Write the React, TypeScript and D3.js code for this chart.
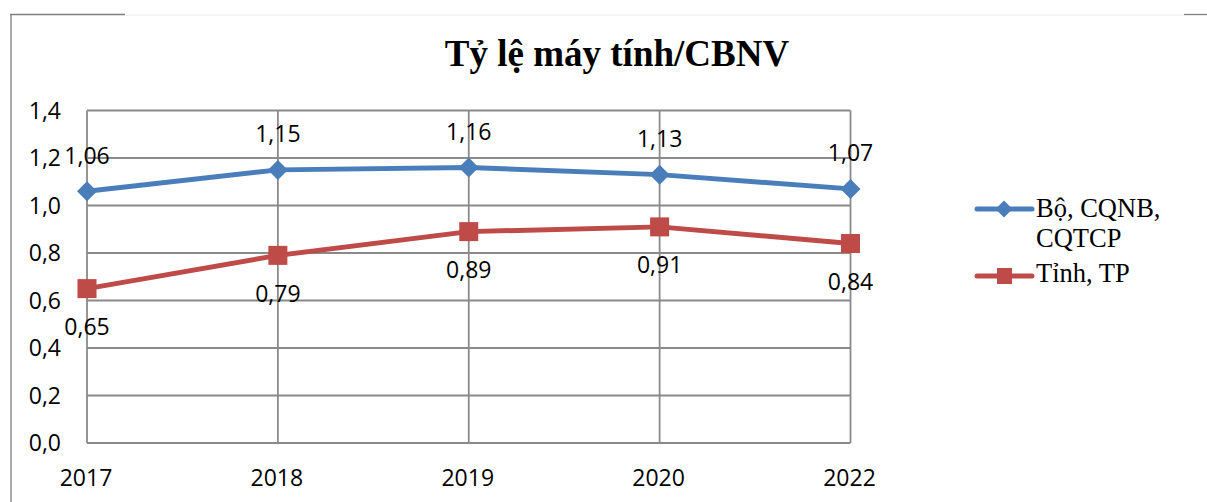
import React from "react";
import * as d3 from "d3";

const categories = ["2017", "2018", "2019", "2020", "2022"];
const seriesBo = [1.06, 1.15, 1.16, 1.13, 1.07];
const seriesTinh = [0.65, 0.79, 0.89, 0.91, 0.84];
const yTicks = [0, 0.2, 0.4, 0.6, 0.8, 1.0, 1.2, 1.4];
const seriesNames = ["Bộ, CQNB,", "CQTCP", "Tỉnh, TP"];
const title = "Tỷ lệ máy tính/CBNV";

const BLUE = "#4A7EBB";
const RED = "#BE4B48";
const GRID = "#8A8A8A";

const fmt = (v: number, d: number) => v.toFixed(d).replace(".", ",");

export default function App() {
  const W = 1207;
  const H = 502;
  const x = d3.scalePoint<string>().domain(categories).range([87, 850.5]).padding(0);
  const y = d3.scaleLinear().domain([0, 1.4]).range([443, 110.5]);
  const line = d3
    .line<number>()
    .x((_, i) => x(categories[i]) as number)
    .y((d) => y(d));

  const numFont = "'Open Sans', sans-serif";
  const serif = "'Liberation Serif', 'Times New Roman', serif";
  const NF = 23;

  const diamond = (cx: number, cy: number, r: number) =>
    `M${cx},${cy - r}L${cx + r},${cy}L${cx},${cy + r}L${cx - r},${cy}Z`;

  return (
    <svg
      width={W}
      height={H}
      style={{ position: "fixed", left: 0, top: 0, background: "#fff" }}
    >
      {/* frame */}
      <line x1={125} y1={15} x2={1184} y2={15} stroke="#EEEEEE" strokeWidth={1.2} />
      <line x1={10} y1={14.5} x2={125} y2={14.5} stroke="#7F7F7F" strokeWidth={1.3} />
      <line x1={1184} y1={14.5} x2={1207} y2={14.5} stroke="#7F7F7F" strokeWidth={1.3} />
      <line x1={11} y1={14} x2={11} y2={502} stroke="#7F7F7F" strokeWidth={1.3} />

      {/* title */}
      <text
        x={617}
        y={66}
        textAnchor="middle"
        fontFamily={serif}
        fontWeight="bold"
        fontSize={37}
        fill="#000"
      >
        {title}
      </text>

      {/* grid */}
      {yTicks.map((t) => (
        <line
          key={"h" + t}
          x1={x(categories[0])}
          x2={x(categories[categories.length - 1])}
          y1={y(t)}
          y2={y(t)}
          stroke={GRID}
          strokeWidth={1.8}
        />
      ))}
      {categories.map((c) => (
        <line
          key={"v" + c}
          x1={x(c)}
          x2={x(c)}
          y1={y(0)}
          y2={y(1.4)}
          stroke={GRID}
          strokeWidth={1.8}
        />
      ))}

      {/* y tick labels */}
      {yTicks.map((t) => (
        <text
          key={"yt" + t}
          x={61}
          y={y(t) + 8}
          textAnchor="end"
          fontFamily={numFont}
          fontSize={NF}
          fill="#000"
        >
          {fmt(t, 1)}
        </text>
      ))}

      {/* x tick labels */}
      {categories.map((c) => (
        <text
          key={"xt" + c}
          x={(x(c) as number) - 1}
          y={486}
          textAnchor="middle"
          fontFamily={numFont}
          fontSize={NF}
          fill="#000"
        >
          {c}
        </text>
      ))}

      {/* lines */}
      <path d={line(seriesTinh) || ""} fill="none" stroke={RED} strokeWidth={5} strokeLinejoin="round" />
      <path d={line(seriesBo) || ""} fill="none" stroke={BLUE} strokeWidth={5} strokeLinejoin="round" />

      {/* markers */}
      {seriesBo.map((v, i) => (
        <path key={"mb" + i} d={diamond(x(categories[i]) as number, y(v), 10)} fill={BLUE} />
      ))}
      {seriesTinh.map((v, i) => (
        <rect
          key={"mt" + i}
          x={(x(categories[i]) as number) - 9.5}
          y={y(v) - 9.5}
          width={19}
          height={19}
          fill={RED}
        />
      ))}

      {/* data labels */}
      {seriesBo.map((v, i) => (
        <text
          key={"lb" + i}
          x={x(categories[i]) as number}
          y={y(v) - 27.5}
          textAnchor="middle"
          fontFamily={numFont}
          fontSize={NF}
          fill="#000"
        >
          {fmt(v, 2)}
        </text>
      ))}
      {seriesTinh.map((v, i) => (
        <text
          key={"lt" + i}
          x={x(categories[i]) as number}
          y={y(v) + 46.5}
          textAnchor="middle"
          fontFamily={numFont}
          fontSize={NF}
          fill="#000"
        >
          {fmt(v, 2)}
        </text>
      ))}

      {/* legend */}
      <line x1={977} x2={1032} y1={209} y2={209} stroke={BLUE} strokeWidth={5} strokeLinecap="round" />
      <path d={diamond(1004, 209, 8.5)} fill={BLUE} />
      <text x={1036} y={217} fontFamily={serif} fontSize={26.5} fill="#000">
        {seriesNames[0]}
      </text>
      <text x={1036} y={247} fontFamily={serif} fontSize={26.5} fill="#000">
        {seriesNames[1]}
      </text>
      <line x1={977} x2={1032} y1={276} y2={276} stroke={RED} strokeWidth={5} strokeLinecap="round" />
      <rect x={997} y={268} width={15} height={16} fill={RED} />
      <text x={1036} y={282} fontFamily={serif} fontSize={26.5} fill="#000">
        {seriesNames[2]}
      </text>
    </svg>
  );
}
